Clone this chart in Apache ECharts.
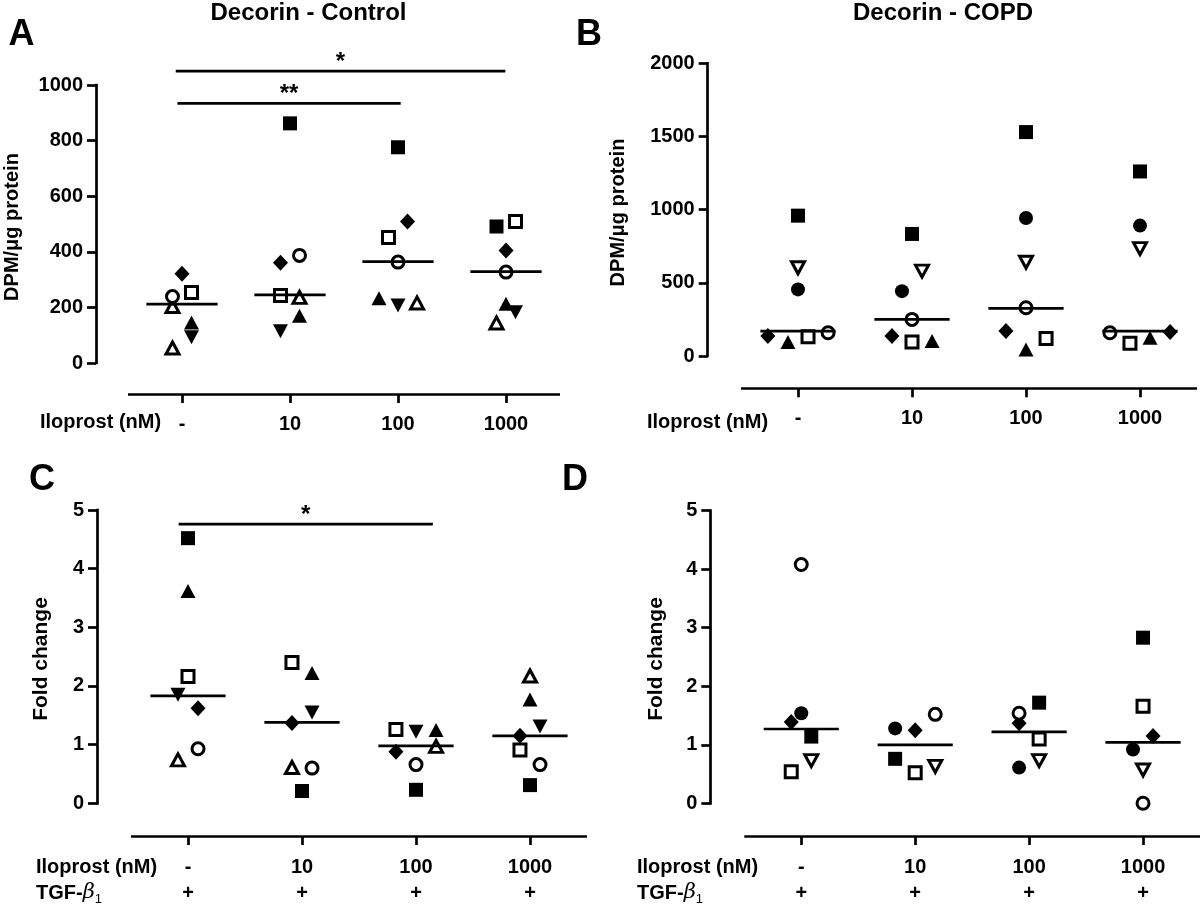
<!DOCTYPE html>
<html>
<head>
<meta charset="utf-8">
<script src="https://cdn.jsdelivr.net/npm/echarts@6/dist/echarts.min.js"></script>
<style>html,body{margin:0;padding:0;background:#fff}#c{width:1200px;height:907px}</style>
</head>
<body>
<div id="c"></div>
<script>
// ---------------- DATA ----------------
const categories = ['-', '10', '100', '1000'];

// Panel A: Decorin - Control (DPM/µg protein)
const panelA_yTicks = [0, 200, 400, 600, 800, 1000];
const panelA_markers = ['fSquare', 'fTriUp', 'fTriDown', 'fDiamond', 'oTriUp', 'oTriUp', 'oSquare', 'oCircle'];
const panelA_values = [
  [null, 862, 776, 491],
  [146, 170, 233, 213],
  [93, 114, 207, 183],
  [321, 361, 509, 405],
  [203, 236, 216, 144],
  [54, null, null, null],
  [254, 243, 451, 509],
  [239, 387, 363, 327]
];
const panelA_jitter = [
  [0, 0, 0, -1],
  [1, 1, -2, 0],
  [1, -1, 0, 1],
  [0, -1, 1, 0],
  [-1, 1, 2, -1],
  [-1, 0, 0, 0],
  [1, -1, -1, 1],
  [-1, 1, 0, 0]
];
const panelA_medians = [212, 245, 365, 329];
const panelA_brackets = [[-0.058, 2.994, 1050], [-0.042, 2.025, 934]];
const panelA_bracketLabels = ['*', '**'];

// Panel B: Decorin - COPD
const panelB_yTicks = [0, 500, 1000, 1500, 2000];
const panelB_markers = ['fSquare', 'fCircle', 'fTriUp', 'fDiamond', 'oTriDown', 'oSquare', 'oCircle'];
const panelB_values = [
  [959, 834, 1530, 1261],
  [455, 443, 943, 891],
  [95, 102, 45, 125],
  [136, 136, 170, 164],
  [603, 580, 641, 734],
  [132, 95, 120, 87],
  [159, 250, 330, 159]
];
const panelB_jitter = [
  [0, 0, 0, 0],
  [0, -1, 0, 0],
  [-1, 2, 0, 1],
  [-3, -2, -2, 3],
  [0, 1, 0, 0],
  [1, 0, 2, -1],
  [3, 0, 0, -3]
];
const panelB_medians = [170, 250, 325, 170];
const panelB_brackets = [];
const panelB_bracketLabels = [];

// Panel C: Control, TGF-β1 fold change
const panelC_yTicks = [0, 1, 2, 3, 4, 5];
const panelC_markers = ['fSquare', 'fTriUp', 'fTriDown', 'fDiamond', 'oTriUp', 'oSquare', 'oCircle'];
const panelC_values = [
  [4.52, 0.21, 0.23, 0.31],
  [3.62, 2.22, 1.25, 1.77],
  [1.85, 1.55, 1.22, 1.31],
  [1.62, 1.37, 0.88, 1.15],
  [0.74, 0.61, 0.97, 2.17],
  [2.16, 2.40, 1.26, 0.91],
  [0.93, 0.60, 0.66, 0.66]
];
const panelC_jitter = [
  [0, 0, 0, 0],
  [0, 1, 2, 0],
  [-1, 1, 0, 1],
  [1, -1, -2, -1],
  [-1, -1, 2, 0],
  [0, -1, -2, -1],
  [1, 1, 0, 1]
];
const panelC_medians = [1.83, 1.38, 0.98, 1.15];
const panelC_brackets = [[-0.082, 2.148, 4.76]];
const panelC_bracketLabels = ['*'];

// Panel D: COPD, TGF-β1 fold change
const panelD_yTicks = [0, 1, 2, 3, 4, 5];
const panelD_markers = ['fSquare', 'fCircle', 'fDiamond', 'oTriDown', 'oSquare', 'oCircle'];
const panelD_values = [
  [1.14, 0.76, 1.72, 2.83],
  [1.54, 1.28, 0.61, 0.92],
  [1.39, 1.25, 1.37, 1.15],
  [0.73, 0.63, 0.73, 0.57],
  [0.54, 0.52, 1.10, 1.66],
  [4.08, 1.52, 1.54, 0.0]
];
const panelD_jitter = [
  [1, -2, 1, 0],
  [0, -2, -1, -1],
  [-1, 0, -1, 1],
  [1, 2, 1, 0],
  [-1, 0, 1, 0],
  [0, 2, -1, 0]
];
const panelD_medians = [1.27, 1.0, 1.22, 1.04];
const panelD_brackets = [];
const panelD_bracketLabels = [];

// ---------------- STYLE / LAYOUT ----------------
const FONT = "'Liberation Sans', Arial, Helvetica, sans-serif";
const LW = 2.7;
const JITTER_UNIT = 0.088;
const MEDIAN_HALF = 0.33;

const SYMBOLS = {
  fSquare:  {symbol: 'rect', size: 14, rotate: 0, open: false},
  fCircle:  {symbol: 'circle', size: 14, rotate: 0, open: false},
  fTriUp:   {symbol: 'triangle', size: [15, 14], rotate: 0, open: false},
  fTriDown: {symbol: 'triangle', size: [15, 14], rotate: 180, open: false},
  fDiamond: {symbol: 'diamond', size: [15, 16], rotate: 0, open: false},
  oTriUp:   {symbol: 'triangle', size: [13, 12], rotate: 0, open: true},
  oTriDown: {symbol: 'triangle', size: [13, 12], rotate: 180, open: true},
  oSquare:  {symbol: 'rect', size: 12, rotate: 0, open: true},
  oCircle:  {symbol: 'circle', size: 12, rotate: 0, open: true}
};

const panels = [
  {markers: panelA_markers, values: panelA_values, jitter: panelA_jitter, medians: panelA_medians,
   brackets: panelA_brackets, bracketLabels: panelA_bracketLabels, yTicks: panelA_yTicks,
   grid: {left: 128, top: 85, width: 432, height: 278}, yOffset: 32, xOffset: 31, twoRow: false},
  {markers: panelB_markers, values: panelB_values, jitter: panelB_jitter, medians: panelB_medians,
   brackets: panelB_brackets, bracketLabels: panelB_bracketLabels, yTicks: panelB_yTicks,
   grid: {left: 741, top: 63.3, width: 456, height: 292.7}, yOffset: 33.3, xOffset: 32.3, twoRow: false},
  {markers: panelC_markers, values: panelC_values, jitter: panelC_jitter, medians: panelC_medians,
   brackets: panelC_brackets, bracketLabels: panelC_bracketLabels, yTicks: panelC_yTicks,
   grid: {left: 131, top: 510, width: 456, height: 293.3}, yOffset: 34, xOffset: 32.7, twoRow: true},
  {markers: panelD_markers, values: panelD_values, jitter: panelD_jitter, medians: panelD_medians,
   brackets: panelD_brackets, bracketLabels: panelD_bracketLabels, yTicks: panelD_yTicks,
   grid: {left: 744.3, top: 510.7, width: 456, height: 292.6}, yOffset: 34, xOffset: 32.7, twoRow: true}
];

const grids = [], xAxes = [], yAxes = [], series = [];

panels.forEach((p, gi) => {
  grids.push(Object.assign({containLabel: false}, p.grid));
  // visible category axis
  xAxes.push({
    type: 'category', gridIndex: gi, data: categories, boundaryGap: true, position: 'bottom',
    offset: p.xOffset,
    axisLine: {show: true, onZero: false, lineStyle: {color: '#000', width: LW, cap: 'butt'}},
    axisTick: {show: true, alignWithLabel: true, length: 9, lineStyle: {color: '#000', width: LW}},
    axisLabel: {
      color: '#000', fontFamily: FONT, fontWeight: 'bold', fontSize: 20,
      margin: p.twoRow ? 18 : 17.5, lineHeight: 26,
      formatter: p.twoRow ? (v => v + '\n+') : (v => v)
    },
    splitLine: {show: false}
  });
  // hidden value axis used to place jittered points
  xAxes.push({type: 'value', gridIndex: gi, min: -0.5, max: 3.5, show: false,
              axisLine: {onZero: false}});
  const yt = p.yTicks;
  yAxes.push({
    type: 'value', gridIndex: gi, min: yt[0], max: yt[yt.length - 1], interval: yt[1] - yt[0],
    offset: p.yOffset, position: 'left',
    axisLine: {show: true, onZero: false, lineStyle: {color: '#000', width: LW, cap: 'square'}},
    axisTick: {show: true, length: 9, lineStyle: {color: '#000', width: LW}},
    axisLabel: {color: '#000', fontFamily: FONT, fontWeight: 'bold', fontSize: 20, margin: 13,
                formatter: v => String(v)},
    splitLine: {show: false}
  });

  const xIdx = gi * 2 + 1;
  // order: filled first, then open
  const order = p.markers.map((m, i) => i).sort((a, b) =>
    (SYMBOLS[p.markers[a]].open ? 1 : 0) - (SYMBOLS[p.markers[b]].open ? 1 : 0));
  order.forEach(ri => {
    const kind = p.markers[ri];
    const s = SYMBOLS[kind];
    const data = [];
    p.values[ri].forEach((v, ci) => {
      if (v !== null && v !== undefined) data.push([ci + p.jitter[ri][ci] * JITTER_UNIT, v]);
    });
    series.push({
      type: 'scatter', xAxisIndex: xIdx, yAxisIndex: gi, data: data,
      symbol: s.symbol, symbolSize: s.size, symbolRotate: s.rotate,
      itemStyle: s.open ? {color: '#fff', borderColor: '#000', borderWidth: 3, opacity: 1}
                        : {color: '#000', borderWidth: 0, opacity: 1},
      z: s.open ? 3 : 2, silent: true, clip: false
    });
  });

  // median lines
  series.push({
    type: 'custom', xAxisIndex: xIdx, yAxisIndex: gi, z: 5, silent: true, clip: false,
    data: p.medians.map((m, i) => [i, m]),
    encode: {x: 0, y: 1},
    renderItem: (params, api) => {
      const c = api.value(0), m = api.value(1);
      const p1 = api.coord([c - MEDIAN_HALF, m]);
      const p2 = api.coord([c + MEDIAN_HALF, m]);
      return {type: 'line', shape: {x1: p1[0], y1: p1[1], x2: p2[0], y2: p2[1]},
              style: {stroke: '#000', lineWidth: LW}};
    }
  });

  // significance brackets
  if (p.brackets.length) {
    const labels = p.bracketLabels;
    series.push({
      type: 'custom', xAxisIndex: xIdx, yAxisIndex: gi, z: 5, silent: true, clip: false,
      data: p.brackets,
      encode: {x: [0, 1], y: 2},
      renderItem: (params, api) => {
        const x1 = api.value(0), x2 = api.value(1), y = api.value(2);
        const a = api.coord([x1, y]), b = api.coord([x2, y]);
        return {
          type: 'group',
          children: [
            {type: 'line', shape: {x1: a[0], y1: a[1], x2: b[0], y2: b[1]},
             style: {stroke: '#000', lineWidth: LW}},
            {type: 'text', x: (a[0] + b[0]) / 2, y: a[1] - 9,
             style: {text: labels[params.dataIndex], align: 'center', verticalAlign: 'middle',
                     font: 'bold 24px ' + FONT, fill: '#000'}}
          ]
        };
      }
    });
  }
});

function txt(text, x, y, size, opts) {
  opts = opts || {};
  return {
    type: 'text', x: x, y: y, rotation: opts.rot || 0, silent: true,
    style: {text: text, font: (opts.weight || 'bold') + ' ' + size + 'px ' + FONT, fill: '#000',
            align: opts.align || 'center', verticalAlign: 'middle'}
  };
}
function tgf(x, y) {
  return {
    type: 'text', x: x, y: y, silent: true,
    style: {
      text: '{a|TGF-}{b|β}{c|1}', align: 'left', verticalAlign: 'middle', fill: '#000',
      rich: {
        a: {fontFamily: FONT, fontWeight: 'bold', fontSize: 20, lineHeight: 26, verticalAlign: 'middle'},
        b: {fontFamily: "'DejaVu Serif', 'Liberation Serif', serif", fontStyle: 'italic', fontSize: 21, lineHeight: 26, verticalAlign: 'middle'},
        c: {fontFamily: FONT, fontSize: 13, lineHeight: 14, verticalAlign: 'bottom'}
      }
    }
  };
}

const graphics = [
  txt('Decorin - Control', 308.5, 13.5, 24),
  txt('Decorin - COPD', 943, 13.5, 24),
  txt('A', 21.5, 35.5, 36),
  txt('B', 589, 35.5, 36),
  txt('C', 42, 480, 36),
  txt('D', 575, 480, 36),
  txt('DPM/μg protein', 12, 227, 20, {rot: Math.PI / 2}),
  txt('DPM/μg protein', 618, 212.5, 20, {rot: Math.PI / 2}),
  txt('Fold change', 41, 659, 21, {rot: Math.PI / 2}),
  txt('Fold change', 656, 659, 21, {rot: Math.PI / 2}),
  txt('Iloprost (nM)', 40, 422, 20, {align: 'left'}),
  txt('Iloprost (nM)', 647, 422, 20, {align: 'left'}),
  txt('Iloprost (nM)', 36, 867, 20, {align: 'left'}),
  txt('Iloprost (nM)', 637, 867, 20, {align: 'left'}),
  tgf(36, 893),
  tgf(637, 893)
];

const chart = echarts.init(document.getElementById('c'), null, {renderer: 'canvas'});
chart.setOption({
  animation: false,
  backgroundColor: '#fff',
  grid: grids,
  xAxis: xAxes,
  yAxis: yAxes,
  series: series,
  graphic: graphics
});
</script>
</body>
</html>
